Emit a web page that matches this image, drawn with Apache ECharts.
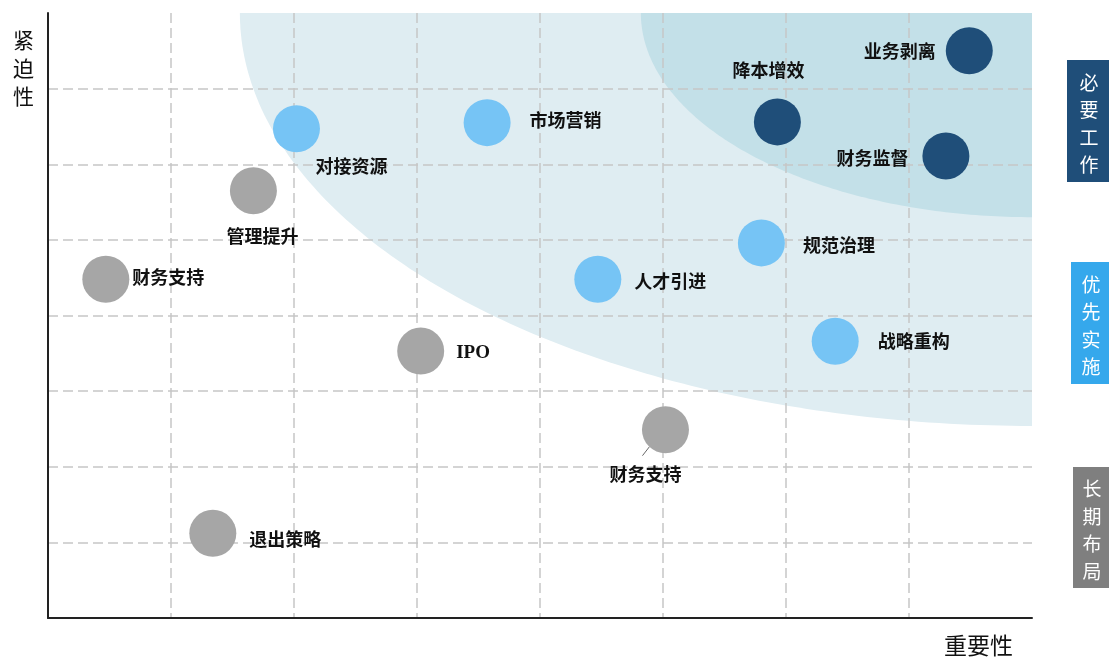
<!DOCTYPE html>
<html>
<head>
<meta charset="utf-8">
<script src="https://cdn.jsdelivr.net/npm/echarts@6/dist/echarts.min.js"></script>
<style>html,body{margin:0;padding:0;background:#fff}#c{width:1109px;height:659px}</style>
</head>
<body>
<div id="c"></div>
<script>
// ---------- data ----------
const groupNames = ['必要工作', '优先实施', '长期布局'];

const mustNames = ['业务剥离', '降本增效', '财务监督'];
const mustImportance = [7.49, 5.93, 7.30];
const mustUrgency = [7.50, 6.56, 6.11];

const priorityNames = ['对接资源', '市场营销', '规范治理', '人才引进', '战略重构'];
const priorityImportance = [2.02, 3.57, 5.80, 4.47, 6.40];
const priorityUrgency = [6.47, 6.55, 4.96, 4.48, 3.66];

const longNames = ['管理提升', '财务支持', 'IPO', '财务支持', '退出策略'];
const longImportance = [1.67, 0.47, 3.03, 5.02, 1.34];
const longUrgency = [5.65, 4.48, 3.53, 2.49, 1.12];

const axisMin = 0, axisMax = 8, axisInterval = 1;
const zoneCenter = [8, 8];
const zoneRadiusX = [6.44, 3.18];
const zoneRadiusY = [5.46, 2.70];

// ---------- styles ----------
const FONT = "'Liberation Serif','Noto Sans CJK SC',serif";
const groupColors = ['#1f4e79', '#76c4f5', '#a6a6a6'];
const legendColors = ['#1f4e79', '#35a8ec', '#7f7f7f'];
const zoneColors = ['#dfedf2', '#c3e0e8'];

const mustLabelPlace = [
  {position: 'left', distance: 10, offset: [0, 3]},
  {position: 'top', distance: 17, offset: [-9, 0]},
  {position: 'left', distance: 14, offset: [0, 4]}
];
const priorityLabelPlace = [
  {position: 'bottom', distance: 7, offset: [55, 0]},
  {position: 'right', distance: 19, offset: [0, 0]},
  {position: 'right', distance: 18, offset: [0, 4]},
  {position: 'right', distance: 13, offset: [0, 4]},
  {position: 'right', distance: 19, offset: [0, 2]}
];
const longLabelPlace = [
  {position: 'bottom', distance: 15, offset: [9, 0]},
  {position: 'right', distance: 3, offset: [0, 0]},
  {position: 'right', distance: 12, offset: [0, 2], fontSize: 19},
  {position: 'bottom', distance: 14, offset: [-20, 0]},
  {position: 'right', distance: 13, offset: [0, 8]}
];

function buildData(names, xs, ys, places) {
  return names.map((n, i) => ({name: n, value: [xs[i], ys[i]], label: places[i]}));
}

const labelStyle = {
  show: true,
  formatter: '{b}',
  color: '#111',
  fontSize: 18,
  fontWeight: 'bold',
  fontFamily: FONT
};

function scatterSeries(idx, data) {
  return {
    name: groupNames[idx],
    type: 'scatter',
    symbolSize: 47,
    itemStyle: {color: groupColors[idx], opacity: 1},
    label: labelStyle,
    emphasis: {disabled: true},
    data: data,
    z: 5
  };
}

const zoneData = zoneRadiusX.map((rx, i) => [zoneCenter[0], zoneCenter[1], rx, zoneRadiusY[i]]);

const chart = echarts.init(document.getElementById('c'));
const legendGraphics = [];
const legendBoxes = [
  {x: 1067, y: 60, w: 42, h: 122},
  {x: 1071, y: 262, w: 38, h: 122},
  {x: 1073, y: 467, w: 36, h: 121}
];
groupNames.forEach((g, i) => {
  const b = legendBoxes[i];
  legendGraphics.push({
    type: 'rect', shape: {x: b.x, y: b.y, width: b.w, height: b.h},
    style: {fill: legendColors[i]}, z: 10
  });
  legendGraphics.push({
    type: 'text', x: b.x + b.w / 2 + 1, y: b.y + b.h / 2 + 3, z: 11,
    style: {
      text: g.split('').join('\n'), fill: '#fff', fontSize: 19,
      fontFamily: "'Noto Sans CJK SC',sans-serif", lineHeight: 27.5,
      align: 'center', verticalAlign: 'middle'
    }
  });
});

chart.setOption({
  animation: false,
  grid: {left: 48, right: 77, top: 13, bottom: 41, containLabel: false},
  xAxis: {
    type: 'value', min: axisMin, max: axisMax, interval: axisInterval,
    name: '重要性', nameLocation: 'end', nameGap: -19,
    nameTextStyle: {fontSize: 23, color: '#111', fontFamily: FONT, align: 'right', verticalAlign: 'top', padding: [18, 0, 0, 0]},
    axisLine: {show: true, onZero: false, lineStyle: {color: '#222', width: 2}},
    axisTick: {show: false}, axisLabel: {show: false},
    splitLine: {show: true, showMinLine: false, showMaxLine: false, lineStyle: {color: '#c6c6c6', width: 1.5, type: [10, 5]}}
  },
  yAxis: {
    type: 'value', min: axisMin, max: axisMax, interval: axisInterval,
    name: '紧\n迫\n性', nameLocation: 'end', nameGap: -15,
    nameTextStyle: {fontSize: 21, lineHeight: 28, color: '#111', fontFamily: FONT, align: 'right', verticalAlign: 'top', padding: [0, 14, 0, 0]},
    axisLine: {show: true, onZero: false, lineStyle: {color: '#222', width: 2}},
    axisTick: {show: false}, axisLabel: {show: false},
    splitLine: {show: true, showMinLine: false, showMaxLine: false, lineStyle: {color: '#c6c6c6', width: 1.5, type: [10, 5]}}
  },
  graphic: legendGraphics,
  series: [
    {
      type: 'custom',
      z: -1,
      silent: true,
      clip: true,
      encode: {x: 0, y: 1},
      data: zoneData,
      renderItem: function (params, api) {
        const cx = api.value(0), cy = api.value(1), rx = api.value(2), ry = api.value(3);
        const points = [api.coord([cx, cy])];
        for (let k = 0; k <= 120; k++) {
          const t = k * Math.PI / 240;
          points.push(api.coord([cx - rx * Math.cos(t), cy - ry * Math.sin(t)]));
        }
        return {type: 'polygon', shape: {points: points}, style: {fill: zoneColors[params.dataIndex]}};
      }
    },
    scatterSeries(0, buildData(mustNames, mustImportance, mustUrgency, mustLabelPlace)),
    scatterSeries(1, buildData(priorityNames, priorityImportance, priorityUrgency, priorityLabelPlace)),
    scatterSeries(2, buildData(longNames, longImportance, longUrgency, longLabelPlace)),
    {
      type: 'custom',
      z: 4,
      silent: true,
      encode: {x: 0, y: 1},
      data: [[longImportance[3], longUrgency[3]]],
      renderItem: function (params, api) {
        const c = api.coord([api.value(0), api.value(1)]);
        return {type: 'line', shape: {x1: c[0] - 16, y1: c[1] + 17, x2: c[0] - 23, y2: c[1] + 26},
          style: {stroke: '#666', lineWidth: 1}};
      }
    }
  ]
});
</script>
</body>
</html>
